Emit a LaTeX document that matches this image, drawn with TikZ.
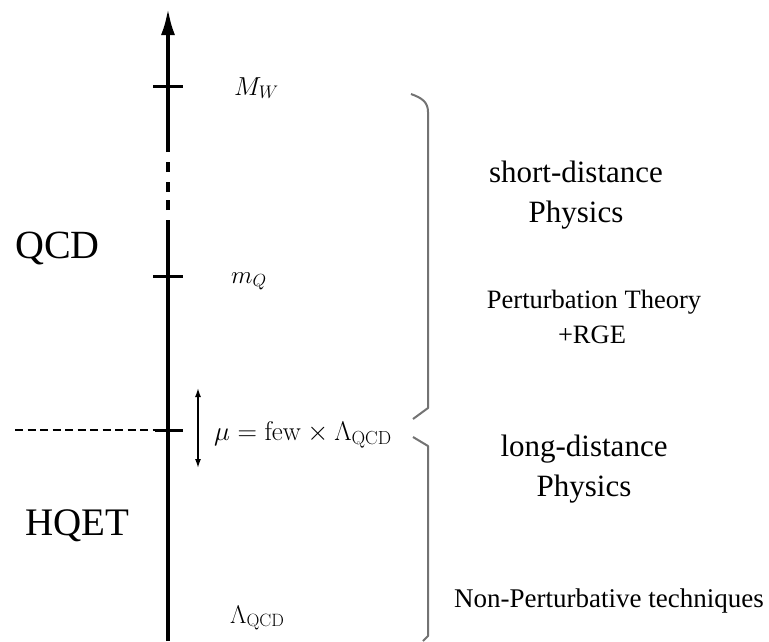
\RequirePackage{fix-cm}
\documentclass[tikz,border=0pt]{standalone}
\usepackage[no-math]{fontspec}
\setmainfont{Liberation Serif}
\usetikzlibrary{arrows.meta}
\tikzset{
  axisline/.style={line width=4pt},
  tickline/.style={line width=3pt},
  brk/.style={draw=black!55, line width=2pt, line join=round},
  lbl/.style={inner sep=0pt, anchor=base west},
  ctext/.style={inner sep=0pt, anchor=base},
}
\begin{document}
\begin{tikzpicture}[x=1pt,y=-1pt]
\useasboundingbox (0,0) rectangle (769,641);
% axis coordinates
\coordinate (bot) at (168,641);
\coordinate (s1) at (168,220);
\coordinate (s2) at (168,152);
\coordinate (tip) at (168,8);
\draw[axisline] (bot) -- (s1);
\draw[axisline] (168,210) -- (168,200) (168,192) -- (168,182) (168,172) -- (168,162);
\draw[axisline, -{Latex[length=27pt,width=14pt]}] (s2) -- (tip);
% ticks
\coordinate (tWl) at (153,86); \coordinate (tWr) at (183,86);
\coordinate (tQl) at (153,276); \coordinate (tQr) at (183,276);
\coordinate (tMl) at (155,430); \coordinate (tMr) at (183,430);
\draw[tickline] (tWl) -- (tWr);
\draw[tickline] (tQl) -- (tQr);
\draw[tickline] (tMl) -- (tMr);
% dashed line
\coordinate (dl) at (15,430);
\draw[line width=2.5pt, dash pattern=on 8pt off 4.5pt] (dl) -- (tMl);
% double arrow
\coordinate (da) at (198,388); \coordinate (db) at (198,468);
\draw[line width=1.5pt, {Latex[length=9pt,width=6pt]}-{Latex[length=9pt,width=6pt]}] (da) -- (db);
% scale labels
\node[lbl] (MW) at (234,95) {\fontsize{26}{30}\selectfont $M_W$};
\node[lbl] (mQ) at (231,283) {\fontsize{25}{30}\selectfont $m_Q$};
\node[lbl] (mu) at (214,440) {\fontsize{27}{30}\selectfont $\mu=\mathrm{few}\times\Lambda_{\mathrm{QCD}}$};
\node[lbl] (LQ) at (230,623) {\fontsize{25.5}{30}\selectfont $\Lambda_{\mathrm{QCD}}$};
% theory labels
\node[lbl] (qcd) at (15,258) {\fontsize{40}{44}\selectfont QCD};
\node[lbl] (hqet) at (25,535) {\fontsize{39}{43}\selectfont HQET};
% brackets
\draw[brk] (411,94) .. controls (422,98) and (428,102) .. (428,112) -- (428,408) -- (413,419);
\draw[brk] (413,437) -- (428,446) -- (428,636) -- (423,641);
% right texts
\node[ctext] (sd) at (576,182) {\fontsize{31}{34}\selectfont short-distance};
\node[ctext] (ph1) at (576,222) {\fontsize{31}{34}\selectfont Physics};
\node[ctext] (pt) at (594,308) {\fontsize{26.5}{30}\selectfont Perturbation Theory};
\node[ctext] (rge) at (592,343) {\fontsize{26.5}{30}\selectfont +RGE};
\node[ctext] (ld) at (584,456) {\fontsize{31}{34}\selectfont long-distance};
\node[ctext] (ph2) at (584,496) {\fontsize{31}{34}\selectfont Physics};
\node[ctext] (np) at (609,607) {\fontsize{27}{30}\selectfont Non-Perturbative techniques};
\end{tikzpicture}
\end{document}
